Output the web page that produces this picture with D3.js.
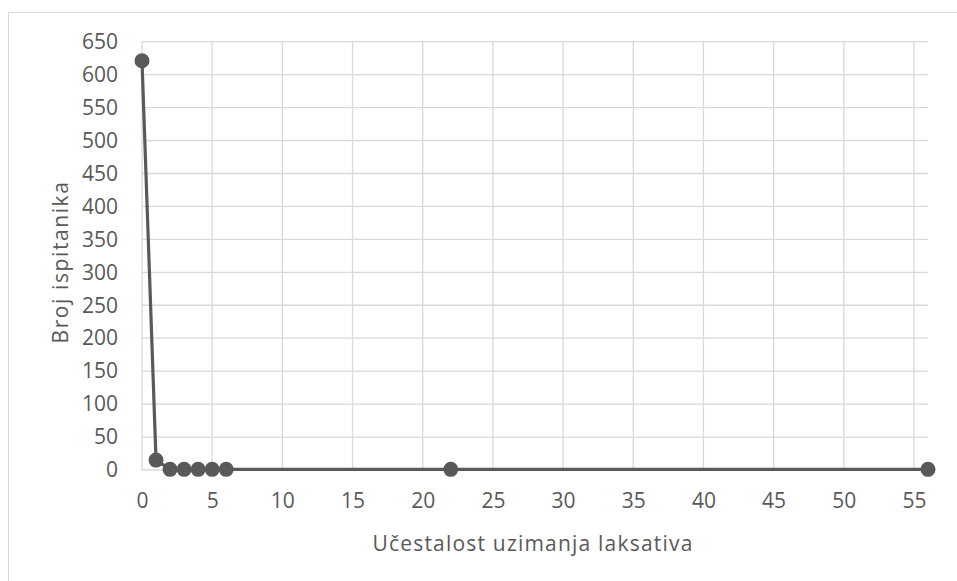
<!DOCTYPE html>
<html>
<head>
<meta charset="utf-8">
<script src="https://cdn.jsdelivr.net/npm/d3@7"></script>
<style>
  body { margin: 0; background: #fff; }
  text { font-family: "Open Sans", sans-serif; fill: #595959; }
</style>
</head>
<body>
<script>
  // data
  let frequency = [0, 1, 2, 3, 4, 5, 6, 22, 56];
  let respondents = [621, 15, 1, 1, 1, 1, 1, 1, 1];
  let xTicks = [0, 5, 10, 15, 20, 25, 30, 35, 40, 45, 50, 55];
  let yTicks = d3.range(0, 651, 50);
  let xTitle = "Učestalost uzimanja laksativa";
  let yTitle = "Broj ispitanika";

  let width = 957, height = 581;
  let plotLeft = 142, plotRight = 928, plotTop = 41.7, plotBottom = 470;

  let svg = d3.select("body").append("svg")
    .attr("width", width)
    .attr("height", height);

  // chart border
  svg.append("rect")
    .attr("x", 8.5)
    .attr("y", 12.5)
    .attr("width", 1000)
    .attr("height", 700)
    .attr("fill", "none")
    .attr("stroke", "#d9d9d9")
    .attr("stroke-width", 1);

  let xScale = d3.scaleLinear().domain([0, 56]).range([plotLeft, plotRight]);
  let yScale = d3.scaleLinear().domain([0, 650]).range([plotBottom, plotTop]);

  // horizontal gridlines
  svg.append("g").selectAll("line")
    .data(yTicks)
    .enter()
    .append("line")
      .attr("x1", plotLeft)
      .attr("x2", plotRight)
      .attr("y1", (d) => yScale(d))
      .attr("y2", (d) => yScale(d))
      .attr("stroke", "#d9d9d9")
      .attr("stroke-width", 1.3);

  // vertical gridlines
  svg.append("g").selectAll("line")
    .data(xTicks)
    .enter()
    .append("line")
      .attr("x1", (d) => xScale(d))
      .attr("x2", (d) => xScale(d))
      .attr("y1", plotTop)
      .attr("y2", plotBottom)
      .attr("stroke", "#d9d9d9")
      .attr("stroke-width", 1.3);

  // axes (labels only)
  let xAxis = d3.axisBottom(xScale).tickValues(xTicks).tickSize(0).tickPadding(0);
  let gx = svg.append("g")
    .attr("transform", "translate(0," + plotBottom + ")")
    .call(xAxis);
  gx.select(".domain").remove();
  gx.selectAll("text")
    .attr("y", 31)
    .attr("dy", "0.35em")
    .style("font-size", "21px")
    .attr("fill", "#595959");

  let yAxis = d3.axisLeft(yScale).tickValues(yTicks).tickSize(0).tickPadding(24);
  let gy = svg.append("g")
    .attr("transform", "translate(" + plotLeft + ",0)")
    .call(yAxis);
  gy.select(".domain").remove();
  gy.selectAll("text")
    .style("font-size", "21px")
    .attr("fill", "#595959");

  // series line
  let line = d3.line()
    .x((d, i) => xScale(frequency[i]))
    .y((d) => yScale(d));

  svg.append("path")
    .datum(respondents)
    .attr("d", line)
    .attr("fill", "none")
    .attr("stroke", "#595959")
    .attr("stroke-width", 3.2)
    .attr("stroke-linejoin", "round");

  svg.append("g").selectAll("circle")
    .data(respondents)
    .enter()
    .append("circle")
      .attr("cx", (d, i) => xScale(frequency[i]))
      .attr("cy", (d) => yScale(d))
      .attr("r", 7.5)
      .attr("fill", "#595959");

  // axis titles
  svg.append("text")
    .attr("x", 533)
    .attr("y", 543)
    .attr("text-anchor", "middle")
    .attr("dominant-baseline", "central")
    .style("font-size", "21px")
    .style("letter-spacing", "1.2px")
    .text(xTitle);

  svg.append("text")
    .attr("transform", "translate(60,262)rotate(-90)")
    .attr("text-anchor", "middle")
    .attr("dominant-baseline", "central")
    .style("font-size", "21px")
    .style("letter-spacing", "1.6px")
    .text(yTitle);
</script>
</body>
</html>
